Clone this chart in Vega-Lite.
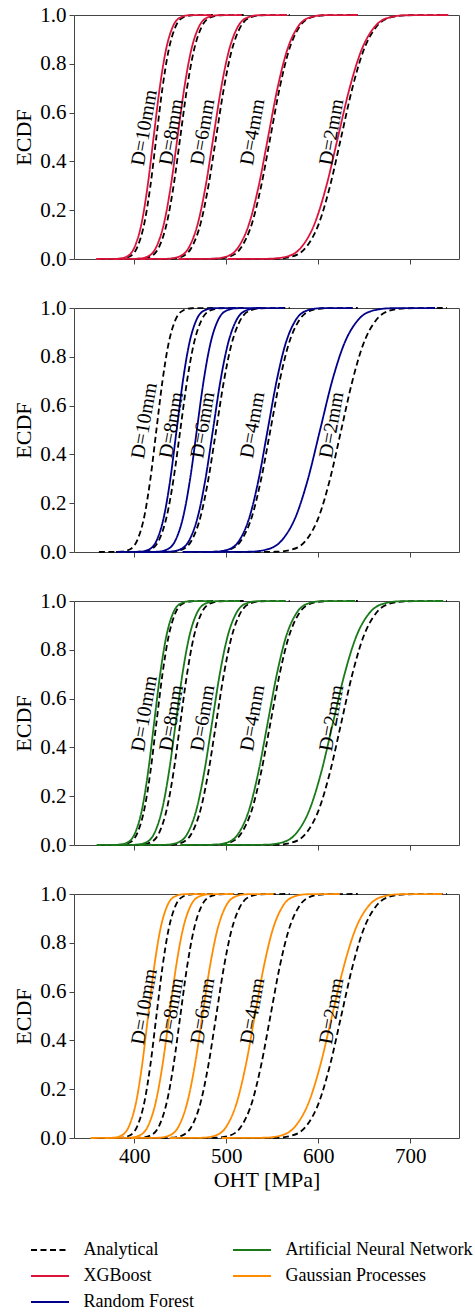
{
"$schema":"https://vega.github.io/schema/vega-lite/v6.json",
"background":"white",
"padding":{"left":12,"top":3,"right":0,"bottom":0},
"bounds":"flush",
"spacing":49,
"resolve":{"scale":{"color":"shared","strokeDash":"shared"},"legend":{"color":"shared","strokeDash":"shared"}},
"config":{
"font":"Liberation Serif",
"view":{"stroke":"#444","strokeWidth":1},
"axis":{"grid":false,"domain":false,"tickColor":"#444","tickSize":5,"labelFont":"Liberation Serif","labelFontSize":21,"labelColor":"black","labelPadding":3,"titleFont":"Liberation Serif","titleFontSize":22,"titleFontWeight":"normal","titleColor":"black"},
"legend":{"orient":"none","legendX":-35,"legendY":1224,"columns":2,"symbolType":"M-1.9,0H1.9","symbolSize":400,"symbolStrokeWidth":1.8,"labelFont":"Liberation Serif","labelFontSize":18,"labelColor":"black","labelOffset":22.5,"columnPadding":35,"rowPadding":6,"padding":0,"labelLimit":400}
},
"datasets":{
"labels":[
{"lab":"D=10mm","x":411,"y":0.538},
{"lab":"D=8mm","x":440.5,"y":0.52},
{"lab":"D=6mm","x":474.5,"y":0.52},
{"lab":"D=4mm","x":528.7,"y":0.52},
{"lab":"D=2mm","x":614.6,"y":0.52}
],
"curves":[
{"m":"Analytical","d":10,"x":361.5,"y":0},{"m":"Analytical","d":10,"x":385.4,"y":0.001},{"m":"Analytical","d":10,"x":394.9,"y":0.01},{"m":"Analytical","d":10,"x":403.4,"y":0.05},{"m":"Analytical","d":10,"x":411.1,"y":0.15},{"m":"Analytical","d":10,"x":417.5,"y":0.3},{"m":"Analytical","d":10,"x":424,"y":0.5},{"m":"Analytical","d":10,"x":430.6,"y":0.7},{"m":"Analytical","d":10,"x":437,"y":0.85},{"m":"Analytical","d":10,"x":444.6,"y":0.95},{"m":"Analytical","d":10,"x":453.1,"y":0.99},{"m":"Analytical","d":10,"x":462.6,"y":0.999},{"m":"Analytical","d":10,"x":486.5,"y":1},
{"m":"Analytical","d":8,"x":380,"y":0},{"m":"Analytical","d":8,"x":406.7,"y":0.001},{"m":"Analytical","d":8,"x":417.4,"y":0.01},{"m":"Analytical","d":8,"x":427,"y":0.05},{"m":"Analytical","d":8,"x":435.5,"y":0.15},{"m":"Analytical","d":8,"x":442.7,"y":0.3},{"m":"Analytical","d":8,"x":450,"y":0.5},{"m":"Analytical","d":8,"x":457.3,"y":0.7},{"m":"Analytical","d":8,"x":464.5,"y":0.85},{"m":"Analytical","d":8,"x":473,"y":0.95},{"m":"Analytical","d":8,"x":482.6,"y":0.99},{"m":"Analytical","d":8,"x":493.3,"y":0.999},{"m":"Analytical","d":8,"x":520,"y":1},
{"m":"Analytical","d":6,"x":409,"y":0},{"m":"Analytical","d":6,"x":439.6,"y":0.001},{"m":"Analytical","d":6,"x":451.8,"y":0.01},{"m":"Analytical","d":6,"x":462.7,"y":0.05},{"m":"Analytical","d":6,"x":472.4,"y":0.15},{"m":"Analytical","d":6,"x":480.6,"y":0.3},{"m":"Analytical","d":6,"x":489,"y":0.5},{"m":"Analytical","d":6,"x":497.4,"y":0.7},{"m":"Analytical","d":6,"x":505.6,"y":0.85},{"m":"Analytical","d":6,"x":515.3,"y":0.95},{"m":"Analytical","d":6,"x":526.2,"y":0.99},{"m":"Analytical","d":6,"x":538.4,"y":0.999},{"m":"Analytical","d":6,"x":569,"y":1},
{"m":"Analytical","d":4,"x":453,"y":0},{"m":"Analytical","d":4,"x":489.3,"y":0.001},{"m":"Analytical","d":4,"x":503.8,"y":0.01},{"m":"Analytical","d":4,"x":516.7,"y":0.05},{"m":"Analytical","d":4,"x":528.3,"y":0.15},{"m":"Analytical","d":4,"x":538,"y":0.3},{"m":"Analytical","d":4,"x":548,"y":0.5},{"m":"Analytical","d":4,"x":558,"y":0.7},{"m":"Analytical","d":4,"x":567.7,"y":0.85},{"m":"Analytical","d":4,"x":579.3,"y":0.95},{"m":"Analytical","d":4,"x":592.2,"y":0.99},{"m":"Analytical","d":4,"x":606.7,"y":0.999},{"m":"Analytical","d":4,"x":643,"y":1},
{"m":"Analytical","d":2,"x":510,"y":0},{"m":"Analytical","d":2,"x":553.9,"y":0.001},{"m":"Analytical","d":2,"x":571.5,"y":0.01},{"m":"Analytical","d":2,"x":587.2,"y":0.05},{"m":"Analytical","d":2,"x":601.2,"y":0.15},{"m":"Analytical","d":2,"x":612.9,"y":0.3},{"m":"Analytical","d":2,"x":625,"y":0.5},{"m":"Analytical","d":2,"x":637.1,"y":0.7},{"m":"Analytical","d":2,"x":648.8,"y":0.85},{"m":"Analytical","d":2,"x":662.8,"y":0.95},{"m":"Analytical","d":2,"x":678.5,"y":0.99},{"m":"Analytical","d":2,"x":696.1,"y":0.999},{"m":"Analytical","d":2,"x":740,"y":1},
{"m":"XGBoost","d":10,"x":358.5,"y":0},{"m":"XGBoost","d":10,"x":382.4,"y":0.001},{"m":"XGBoost","d":10,"x":391.9,"y":0.01},{"m":"XGBoost","d":10,"x":400.4,"y":0.05},{"m":"XGBoost","d":10,"x":408.1,"y":0.15},{"m":"XGBoost","d":10,"x":414.5,"y":0.3},{"m":"XGBoost","d":10,"x":421,"y":0.5},{"m":"XGBoost","d":10,"x":427.6,"y":0.7},{"m":"XGBoost","d":10,"x":434,"y":0.85},{"m":"XGBoost","d":10,"x":441.6,"y":0.95},{"m":"XGBoost","d":10,"x":450.1,"y":0.99},{"m":"XGBoost","d":10,"x":459.6,"y":0.999},{"m":"XGBoost","d":10,"x":483.5,"y":1},
{"m":"XGBoost","d":8,"x":377,"y":0},{"m":"XGBoost","d":8,"x":403.7,"y":0.001},{"m":"XGBoost","d":8,"x":414.4,"y":0.01},{"m":"XGBoost","d":8,"x":424,"y":0.05},{"m":"XGBoost","d":8,"x":432.5,"y":0.15},{"m":"XGBoost","d":8,"x":439.7,"y":0.3},{"m":"XGBoost","d":8,"x":447,"y":0.5},{"m":"XGBoost","d":8,"x":454.3,"y":0.7},{"m":"XGBoost","d":8,"x":461.5,"y":0.85},{"m":"XGBoost","d":8,"x":470,"y":0.95},{"m":"XGBoost","d":8,"x":479.6,"y":0.99},{"m":"XGBoost","d":8,"x":490.3,"y":0.999},{"m":"XGBoost","d":8,"x":517,"y":1},
{"m":"XGBoost","d":6,"x":406,"y":0},{"m":"XGBoost","d":6,"x":436.6,"y":0.001},{"m":"XGBoost","d":6,"x":448.8,"y":0.01},{"m":"XGBoost","d":6,"x":459.7,"y":0.05},{"m":"XGBoost","d":6,"x":469.4,"y":0.15},{"m":"XGBoost","d":6,"x":477.6,"y":0.3},{"m":"XGBoost","d":6,"x":486,"y":0.5},{"m":"XGBoost","d":6,"x":494.4,"y":0.7},{"m":"XGBoost","d":6,"x":502.6,"y":0.85},{"m":"XGBoost","d":6,"x":512.3,"y":0.95},{"m":"XGBoost","d":6,"x":523.2,"y":0.99},{"m":"XGBoost","d":6,"x":535.4,"y":0.999},{"m":"XGBoost","d":6,"x":566,"y":1},
{"m":"XGBoost","d":4,"x":448,"y":0},{"m":"XGBoost","d":4,"x":485.2,"y":0.001},{"m":"XGBoost","d":4,"x":500.1,"y":0.01},{"m":"XGBoost","d":4,"x":513.4,"y":0.05},{"m":"XGBoost","d":4,"x":525.3,"y":0.15},{"m":"XGBoost","d":4,"x":535.3,"y":0.3},{"m":"XGBoost","d":4,"x":545.5,"y":0.5},{"m":"XGBoost","d":4,"x":555.7,"y":0.7},{"m":"XGBoost","d":4,"x":565.7,"y":0.85},{"m":"XGBoost","d":4,"x":577.6,"y":0.95},{"m":"XGBoost","d":4,"x":590.9,"y":0.99},{"m":"XGBoost","d":4,"x":605.8,"y":0.999},{"m":"XGBoost","d":4,"x":643,"y":1},
{"m":"XGBoost","d":2,"x":501.5,"y":0},{"m":"XGBoost","d":2,"x":547.3,"y":0.001},{"m":"XGBoost","d":2,"x":565.7,"y":0.01},{"m":"XGBoost","d":2,"x":582,"y":0.05},{"m":"XGBoost","d":2,"x":596.6,"y":0.15},{"m":"XGBoost","d":2,"x":608.9,"y":0.3},{"m":"XGBoost","d":2,"x":621.5,"y":0.5},{"m":"XGBoost","d":2,"x":634.1,"y":0.7},{"m":"XGBoost","d":2,"x":646.4,"y":0.85},{"m":"XGBoost","d":2,"x":661,"y":0.95},{"m":"XGBoost","d":2,"x":677.3,"y":0.99},{"m":"XGBoost","d":2,"x":695.7,"y":0.999},{"m":"XGBoost","d":2,"x":741.5,"y":1},
{"m":"Random Forest","d":10,"x":381,"y":0},{"m":"Random Forest","d":10,"x":405.8,"y":0.001},{"m":"Random Forest","d":10,"x":415.8,"y":0.01},{"m":"Random Forest","d":10,"x":424.6,"y":0.05},{"m":"Random Forest","d":10,"x":432.5,"y":0.15},{"m":"Random Forest","d":10,"x":439.2,"y":0.3},{"m":"Random Forest","d":10,"x":446,"y":0.5},{"m":"Random Forest","d":10,"x":452.8,"y":0.7},{"m":"Random Forest","d":10,"x":459.5,"y":0.85},{"m":"Random Forest","d":10,"x":467.4,"y":0.95},{"m":"Random Forest","d":10,"x":476.2,"y":0.99},{"m":"Random Forest","d":10,"x":486.2,"y":0.999},{"m":"Random Forest","d":10,"x":511,"y":1},
{"m":"Random Forest","d":8,"x":398,"y":0},{"m":"Random Forest","d":8,"x":424.7,"y":0.001},{"m":"Random Forest","d":8,"x":435.4,"y":0.01},{"m":"Random Forest","d":8,"x":445,"y":0.05},{"m":"Random Forest","d":8,"x":453.5,"y":0.15},{"m":"Random Forest","d":8,"x":460.7,"y":0.3},{"m":"Random Forest","d":8,"x":468,"y":0.5},{"m":"Random Forest","d":8,"x":475.3,"y":0.7},{"m":"Random Forest","d":8,"x":482.5,"y":0.85},{"m":"Random Forest","d":8,"x":491,"y":0.95},{"m":"Random Forest","d":8,"x":500.6,"y":0.99},{"m":"Random Forest","d":8,"x":511.3,"y":0.999},{"m":"Random Forest","d":8,"x":538,"y":1},
{"m":"Random Forest","d":6,"x":408,"y":0},{"m":"Random Forest","d":6,"x":437.6,"y":0.001},{"m":"Random Forest","d":6,"x":449.4,"y":0.01},{"m":"Random Forest","d":6,"x":460,"y":0.05},{"m":"Random Forest","d":6,"x":469.4,"y":0.15},{"m":"Random Forest","d":6,"x":477.4,"y":0.3},{"m":"Random Forest","d":6,"x":485.5,"y":0.5},{"m":"Random Forest","d":6,"x":493.6,"y":0.7},{"m":"Random Forest","d":6,"x":501.6,"y":0.85},{"m":"Random Forest","d":6,"x":511,"y":0.95},{"m":"Random Forest","d":6,"x":521.6,"y":0.99},{"m":"Random Forest","d":6,"x":533.4,"y":0.999},{"m":"Random Forest","d":6,"x":563,"y":1},
{"m":"Random Forest","d":4,"x":452.5,"y":0},{"m":"Random Forest","d":4,"x":487.8,"y":0.001},{"m":"Random Forest","d":4,"x":502,"y":0.01},{"m":"Random Forest","d":4,"x":514.6,"y":0.05},{"m":"Random Forest","d":4,"x":525.8,"y":0.15},{"m":"Random Forest","d":4,"x":535.3,"y":0.3},{"m":"Random Forest","d":4,"x":545,"y":0.5},{"m":"Random Forest","d":4,"x":554.7,"y":0.7},{"m":"Random Forest","d":4,"x":564.2,"y":0.85},{"m":"Random Forest","d":4,"x":575.4,"y":0.95},{"m":"Random Forest","d":4,"x":588,"y":0.99},{"m":"Random Forest","d":4,"x":602.2,"y":0.999},{"m":"Random Forest","d":4,"x":637.5,"y":1},
{"m":"Random Forest","d":2,"x":477,"y":0},{"m":"Random Forest","d":2,"x":524.7,"y":0.001},{"m":"Random Forest","d":2,"x":543.8,"y":0.01},{"m":"Random Forest","d":2,"x":560.9,"y":0.05},{"m":"Random Forest","d":2,"x":576.1,"y":0.15},{"m":"Random Forest","d":2,"x":588.9,"y":0.3},{"m":"Random Forest","d":2,"x":602,"y":0.5},{"m":"Random Forest","d":2,"x":615.1,"y":0.7},{"m":"Random Forest","d":2,"x":627.9,"y":0.85},{"m":"Random Forest","d":2,"x":643.1,"y":0.95},{"m":"Random Forest","d":2,"x":660.2,"y":0.99},{"m":"Random Forest","d":2,"x":679.3,"y":0.999},{"m":"Random Forest","d":2,"x":727,"y":1},
{"m":"Artificial Neural Network","d":10,"x":359,"y":0},{"m":"Artificial Neural Network","d":10,"x":382.9,"y":0.001},{"m":"Artificial Neural Network","d":10,"x":392.4,"y":0.01},{"m":"Artificial Neural Network","d":10,"x":400.9,"y":0.05},{"m":"Artificial Neural Network","d":10,"x":408.6,"y":0.15},{"m":"Artificial Neural Network","d":10,"x":415,"y":0.3},{"m":"Artificial Neural Network","d":10,"x":421.5,"y":0.5},{"m":"Artificial Neural Network","d":10,"x":428.1,"y":0.7},{"m":"Artificial Neural Network","d":10,"x":434.5,"y":0.85},{"m":"Artificial Neural Network","d":10,"x":442.1,"y":0.95},{"m":"Artificial Neural Network","d":10,"x":450.6,"y":0.99},{"m":"Artificial Neural Network","d":10,"x":460.1,"y":0.999},{"m":"Artificial Neural Network","d":10,"x":484,"y":1},
{"m":"Artificial Neural Network","d":8,"x":375,"y":0},{"m":"Artificial Neural Network","d":8,"x":401.7,"y":0.001},{"m":"Artificial Neural Network","d":8,"x":412.4,"y":0.01},{"m":"Artificial Neural Network","d":8,"x":422,"y":0.05},{"m":"Artificial Neural Network","d":8,"x":430.5,"y":0.15},{"m":"Artificial Neural Network","d":8,"x":437.7,"y":0.3},{"m":"Artificial Neural Network","d":8,"x":445,"y":0.5},{"m":"Artificial Neural Network","d":8,"x":452.3,"y":0.7},{"m":"Artificial Neural Network","d":8,"x":459.5,"y":0.85},{"m":"Artificial Neural Network","d":8,"x":468,"y":0.95},{"m":"Artificial Neural Network","d":8,"x":477.6,"y":0.99},{"m":"Artificial Neural Network","d":8,"x":488.3,"y":0.999},{"m":"Artificial Neural Network","d":8,"x":515,"y":1},
{"m":"Artificial Neural Network","d":6,"x":404.5,"y":0},{"m":"Artificial Neural Network","d":6,"x":435.1,"y":0.001},{"m":"Artificial Neural Network","d":6,"x":447.3,"y":0.01},{"m":"Artificial Neural Network","d":6,"x":458.2,"y":0.05},{"m":"Artificial Neural Network","d":6,"x":467.9,"y":0.15},{"m":"Artificial Neural Network","d":6,"x":476.1,"y":0.3},{"m":"Artificial Neural Network","d":6,"x":484.5,"y":0.5},{"m":"Artificial Neural Network","d":6,"x":492.9,"y":0.7},{"m":"Artificial Neural Network","d":6,"x":501.1,"y":0.85},{"m":"Artificial Neural Network","d":6,"x":510.8,"y":0.95},{"m":"Artificial Neural Network","d":6,"x":521.7,"y":0.99},{"m":"Artificial Neural Network","d":6,"x":533.9,"y":0.999},{"m":"Artificial Neural Network","d":6,"x":564.5,"y":1},
{"m":"Artificial Neural Network","d":4,"x":450,"y":0},{"m":"Artificial Neural Network","d":4,"x":486.3,"y":0.001},{"m":"Artificial Neural Network","d":4,"x":500.8,"y":0.01},{"m":"Artificial Neural Network","d":4,"x":513.7,"y":0.05},{"m":"Artificial Neural Network","d":4,"x":525.3,"y":0.15},{"m":"Artificial Neural Network","d":4,"x":535,"y":0.3},{"m":"Artificial Neural Network","d":4,"x":545,"y":0.5},{"m":"Artificial Neural Network","d":4,"x":555,"y":0.7},{"m":"Artificial Neural Network","d":4,"x":564.7,"y":0.85},{"m":"Artificial Neural Network","d":4,"x":576.3,"y":0.95},{"m":"Artificial Neural Network","d":4,"x":589.2,"y":0.99},{"m":"Artificial Neural Network","d":4,"x":603.7,"y":0.999},{"m":"Artificial Neural Network","d":4,"x":640,"y":1},
{"m":"Artificial Neural Network","d":2,"x":496,"y":0},{"m":"Artificial Neural Network","d":2,"x":541.8,"y":0.001},{"m":"Artificial Neural Network","d":2,"x":560.2,"y":0.01},{"m":"Artificial Neural Network","d":2,"x":576.5,"y":0.05},{"m":"Artificial Neural Network","d":2,"x":591.1,"y":0.15},{"m":"Artificial Neural Network","d":2,"x":603.4,"y":0.3},{"m":"Artificial Neural Network","d":2,"x":616,"y":0.5},{"m":"Artificial Neural Network","d":2,"x":628.6,"y":0.7},{"m":"Artificial Neural Network","d":2,"x":640.9,"y":0.85},{"m":"Artificial Neural Network","d":2,"x":655.5,"y":0.95},{"m":"Artificial Neural Network","d":2,"x":671.8,"y":0.99},{"m":"Artificial Neural Network","d":2,"x":690.2,"y":0.999},{"m":"Artificial Neural Network","d":2,"x":736,"y":1},
{"m":"Gaussian Processes","d":10,"x":352.5,"y":0},{"m":"Gaussian Processes","d":10,"x":376.4,"y":0.001},{"m":"Gaussian Processes","d":10,"x":385.9,"y":0.01},{"m":"Gaussian Processes","d":10,"x":394.4,"y":0.05},{"m":"Gaussian Processes","d":10,"x":402.1,"y":0.15},{"m":"Gaussian Processes","d":10,"x":408.5,"y":0.3},{"m":"Gaussian Processes","d":10,"x":415,"y":0.5},{"m":"Gaussian Processes","d":10,"x":421.6,"y":0.7},{"m":"Gaussian Processes","d":10,"x":428,"y":0.85},{"m":"Gaussian Processes","d":10,"x":435.6,"y":0.95},{"m":"Gaussian Processes","d":10,"x":444.1,"y":0.99},{"m":"Gaussian Processes","d":10,"x":453.6,"y":0.999},{"m":"Gaussian Processes","d":10,"x":477.5,"y":1},
{"m":"Gaussian Processes","d":8,"x":368,"y":0},{"m":"Gaussian Processes","d":8,"x":394.7,"y":0.001},{"m":"Gaussian Processes","d":8,"x":405.4,"y":0.01},{"m":"Gaussian Processes","d":8,"x":415,"y":0.05},{"m":"Gaussian Processes","d":8,"x":423.5,"y":0.15},{"m":"Gaussian Processes","d":8,"x":430.7,"y":0.3},{"m":"Gaussian Processes","d":8,"x":438,"y":0.5},{"m":"Gaussian Processes","d":8,"x":445.3,"y":0.7},{"m":"Gaussian Processes","d":8,"x":452.5,"y":0.85},{"m":"Gaussian Processes","d":8,"x":461,"y":0.95},{"m":"Gaussian Processes","d":8,"x":470.6,"y":0.99},{"m":"Gaussian Processes","d":8,"x":481.3,"y":0.999},{"m":"Gaussian Processes","d":8,"x":508,"y":1},
{"m":"Gaussian Processes","d":6,"x":396.5,"y":0},{"m":"Gaussian Processes","d":6,"x":426.1,"y":0.001},{"m":"Gaussian Processes","d":6,"x":437.9,"y":0.01},{"m":"Gaussian Processes","d":6,"x":448.5,"y":0.05},{"m":"Gaussian Processes","d":6,"x":457.9,"y":0.15},{"m":"Gaussian Processes","d":6,"x":465.9,"y":0.3},{"m":"Gaussian Processes","d":6,"x":474,"y":0.5},{"m":"Gaussian Processes","d":6,"x":482.1,"y":0.7},{"m":"Gaussian Processes","d":6,"x":490.1,"y":0.85},{"m":"Gaussian Processes","d":6,"x":499.5,"y":0.95},{"m":"Gaussian Processes","d":6,"x":510.1,"y":0.99},{"m":"Gaussian Processes","d":6,"x":521.9,"y":0.999},{"m":"Gaussian Processes","d":6,"x":551.5,"y":1},
{"m":"Gaussian Processes","d":4,"x":438.5,"y":0},{"m":"Gaussian Processes","d":4,"x":473.8,"y":0.001},{"m":"Gaussian Processes","d":4,"x":488,"y":0.01},{"m":"Gaussian Processes","d":4,"x":500.6,"y":0.05},{"m":"Gaussian Processes","d":4,"x":511.8,"y":0.15},{"m":"Gaussian Processes","d":4,"x":521.3,"y":0.3},{"m":"Gaussian Processes","d":4,"x":531,"y":0.5},{"m":"Gaussian Processes","d":4,"x":540.7,"y":0.7},{"m":"Gaussian Processes","d":4,"x":550.2,"y":0.85},{"m":"Gaussian Processes","d":4,"x":561.4,"y":0.95},{"m":"Gaussian Processes","d":4,"x":574,"y":0.99},{"m":"Gaussian Processes","d":4,"x":588.2,"y":0.999},{"m":"Gaussian Processes","d":4,"x":623.5,"y":1},
{"m":"Gaussian Processes","d":2,"x":495,"y":0},{"m":"Gaussian Processes","d":2,"x":540.8,"y":0.001},{"m":"Gaussian Processes","d":2,"x":559.2,"y":0.01},{"m":"Gaussian Processes","d":2,"x":575.5,"y":0.05},{"m":"Gaussian Processes","d":2,"x":590.1,"y":0.15},{"m":"Gaussian Processes","d":2,"x":602.4,"y":0.3},{"m":"Gaussian Processes","d":2,"x":615,"y":0.5},{"m":"Gaussian Processes","d":2,"x":627.6,"y":0.7},{"m":"Gaussian Processes","d":2,"x":639.9,"y":0.85},{"m":"Gaussian Processes","d":2,"x":654.5,"y":0.95},{"m":"Gaussian Processes","d":2,"x":670.8,"y":0.99},{"m":"Gaussian Processes","d":2,"x":689.2,"y":0.999},{"m":"Gaussian Processes","d":2,"x":735,"y":1}
]
},
"vconcat":[
{"width":385,"height":244,
"encoding":{
"x":{"field":"x","type":"quantitative","scale":{"domain":[334.4,753.1],"nice":false,"zero":false},"axis":{"values":[400,500,600,700],"labels":false,"title":null}},
"y":{"field":"y","type":"quantitative","scale":{"domain":[0,1],"nice":false},"axis":{"values":[0,0.2,0.4,0.6,0.8,1],"format":".1f","title":"ECDF"}}},
"layer":[
{"data":{"name":"curves"},"transform":[{"filter":"datum.m === 'Analytical'"}],"mark":{"type":"line","interpolate":"monotone","strokeWidth":1.8},
"encoding":{"detail":{"field":"d"},"order":{"field":"x","type":"quantitative"},
"color":{"field":"m","type":"nominal","scale":{"domain":["Analytical","XGBoost","Random Forest","Artificial Neural Network","Gaussian Processes"],"range":["#000000","#dc143c","#00008b","#1a7a1a","#ff8c00"]},"legend":{"title":null}},
"strokeDash":{"field":"m","type":"nominal","scale":{"domain":["Analytical","XGBoost","Random Forest","Artificial Neural Network","Gaussian Processes"],"range":[[6,3.5],[1,0],[1,0],[1,0],[1,0]]},"legend":{"title":null}}}},
{"data":{"name":"curves"},"transform":[{"filter":"datum.m === 'XGBoost'"}],"mark":{"type":"line","interpolate":"monotone","strokeWidth":1.8},
"encoding":{"detail":{"field":"d"},"order":{"field":"x","type":"quantitative"},
"color":{"field":"m","type":"nominal","scale":{"domain":["Analytical","XGBoost","Random Forest","Artificial Neural Network","Gaussian Processes"],"range":["#000000","#dc143c","#00008b","#1a7a1a","#ff8c00"]},"legend":{"title":null}},
"strokeDash":{"field":"m","type":"nominal","scale":{"domain":["Analytical","XGBoost","Random Forest","Artificial Neural Network","Gaussian Processes"],"range":[[6,3.5],[1,0],[1,0],[1,0],[1,0]]},"legend":{"title":null}}}},
{"data":{"name":"labels"},"mark":{"type":"text","angle":280,"fontSize":20,"font":"Liberation Serif","color":"black","align":"center","baseline":"middle"},"encoding":{"text":{"field":"lab"}}}
]},
{"width":385,"height":244,
"encoding":{
"x":{"field":"x","type":"quantitative","scale":{"domain":[334.4,753.1],"nice":false,"zero":false},"axis":{"values":[400,500,600,700],"labels":false,"title":null}},
"y":{"field":"y","type":"quantitative","scale":{"domain":[0,1],"nice":false},"axis":{"values":[0,0.2,0.4,0.6,0.8,1],"format":".1f","title":"ECDF"}}},
"layer":[
{"data":{"name":"curves"},"transform":[{"filter":"datum.m === 'Analytical'"}],"mark":{"type":"line","interpolate":"monotone","strokeWidth":1.8},
"encoding":{"detail":{"field":"d"},"order":{"field":"x","type":"quantitative"},
"color":{"field":"m","type":"nominal","scale":{"domain":["Analytical","XGBoost","Random Forest","Artificial Neural Network","Gaussian Processes"],"range":["#000000","#dc143c","#00008b","#1a7a1a","#ff8c00"]},"legend":{"title":null}},
"strokeDash":{"field":"m","type":"nominal","scale":{"domain":["Analytical","XGBoost","Random Forest","Artificial Neural Network","Gaussian Processes"],"range":[[6,3.5],[1,0],[1,0],[1,0],[1,0]]},"legend":{"title":null}}}},
{"data":{"name":"curves"},"transform":[{"filter":"datum.m === 'Random Forest'"}],"mark":{"type":"line","interpolate":"monotone","strokeWidth":1.8},
"encoding":{"detail":{"field":"d"},"order":{"field":"x","type":"quantitative"},
"color":{"field":"m","type":"nominal","scale":{"domain":["Analytical","XGBoost","Random Forest","Artificial Neural Network","Gaussian Processes"],"range":["#000000","#dc143c","#00008b","#1a7a1a","#ff8c00"]},"legend":{"title":null}},
"strokeDash":{"field":"m","type":"nominal","scale":{"domain":["Analytical","XGBoost","Random Forest","Artificial Neural Network","Gaussian Processes"],"range":[[6,3.5],[1,0],[1,0],[1,0],[1,0]]},"legend":{"title":null}}}},
{"data":{"name":"labels"},"mark":{"type":"text","angle":280,"fontSize":20,"font":"Liberation Serif","color":"black","align":"center","baseline":"middle"},"encoding":{"text":{"field":"lab"}}}
]},
{"width":385,"height":244,
"encoding":{
"x":{"field":"x","type":"quantitative","scale":{"domain":[334.4,753.1],"nice":false,"zero":false},"axis":{"values":[400,500,600,700],"labels":false,"title":null}},
"y":{"field":"y","type":"quantitative","scale":{"domain":[0,1],"nice":false},"axis":{"values":[0,0.2,0.4,0.6,0.8,1],"format":".1f","title":"ECDF"}}},
"layer":[
{"data":{"name":"curves"},"transform":[{"filter":"datum.m === 'Analytical'"}],"mark":{"type":"line","interpolate":"monotone","strokeWidth":1.8},
"encoding":{"detail":{"field":"d"},"order":{"field":"x","type":"quantitative"},
"color":{"field":"m","type":"nominal","scale":{"domain":["Analytical","XGBoost","Random Forest","Artificial Neural Network","Gaussian Processes"],"range":["#000000","#dc143c","#00008b","#1a7a1a","#ff8c00"]},"legend":{"title":null}},
"strokeDash":{"field":"m","type":"nominal","scale":{"domain":["Analytical","XGBoost","Random Forest","Artificial Neural Network","Gaussian Processes"],"range":[[6,3.5],[1,0],[1,0],[1,0],[1,0]]},"legend":{"title":null}}}},
{"data":{"name":"curves"},"transform":[{"filter":"datum.m === 'Artificial Neural Network'"}],"mark":{"type":"line","interpolate":"monotone","strokeWidth":1.8},
"encoding":{"detail":{"field":"d"},"order":{"field":"x","type":"quantitative"},
"color":{"field":"m","type":"nominal","scale":{"domain":["Analytical","XGBoost","Random Forest","Artificial Neural Network","Gaussian Processes"],"range":["#000000","#dc143c","#00008b","#1a7a1a","#ff8c00"]},"legend":{"title":null}},
"strokeDash":{"field":"m","type":"nominal","scale":{"domain":["Analytical","XGBoost","Random Forest","Artificial Neural Network","Gaussian Processes"],"range":[[6,3.5],[1,0],[1,0],[1,0],[1,0]]},"legend":{"title":null}}}},
{"data":{"name":"labels"},"mark":{"type":"text","angle":280,"fontSize":20,"font":"Liberation Serif","color":"black","align":"center","baseline":"middle"},"encoding":{"text":{"field":"lab"}}}
]},
{"width":385,"height":244,
"encoding":{
"x":{"field":"x","type":"quantitative","scale":{"domain":[334.4,753.1],"nice":false,"zero":false},"axis":{"values":[400,500,600,700],"title":"OHT [MPa]","labelPadding":2,"titlePadding":3}},
"y":{"field":"y","type":"quantitative","scale":{"domain":[0,1],"nice":false},"axis":{"values":[0,0.2,0.4,0.6,0.8,1],"format":".1f","title":"ECDF"}}},
"layer":[
{"data":{"name":"curves"},"transform":[{"filter":"datum.m === 'Analytical'"}],"mark":{"type":"line","interpolate":"monotone","strokeWidth":1.8},
"encoding":{"detail":{"field":"d"},"order":{"field":"x","type":"quantitative"},
"color":{"field":"m","type":"nominal","scale":{"domain":["Analytical","XGBoost","Random Forest","Artificial Neural Network","Gaussian Processes"],"range":["#000000","#dc143c","#00008b","#1a7a1a","#ff8c00"]},"legend":{"title":null}},
"strokeDash":{"field":"m","type":"nominal","scale":{"domain":["Analytical","XGBoost","Random Forest","Artificial Neural Network","Gaussian Processes"],"range":[[6,3.5],[1,0],[1,0],[1,0],[1,0]]},"legend":{"title":null}}}},
{"data":{"name":"curves"},"transform":[{"filter":"datum.m === 'Gaussian Processes'"}],"mark":{"type":"line","interpolate":"monotone","strokeWidth":1.8},
"encoding":{"detail":{"field":"d"},"order":{"field":"x","type":"quantitative"},
"color":{"field":"m","type":"nominal","scale":{"domain":["Analytical","XGBoost","Random Forest","Artificial Neural Network","Gaussian Processes"],"range":["#000000","#dc143c","#00008b","#1a7a1a","#ff8c00"]},"legend":{"title":null}},
"strokeDash":{"field":"m","type":"nominal","scale":{"domain":["Analytical","XGBoost","Random Forest","Artificial Neural Network","Gaussian Processes"],"range":[[6,3.5],[1,0],[1,0],[1,0],[1,0]]},"legend":{"title":null}}}},
{"data":{"name":"labels"},"mark":{"type":"text","angle":280,"fontSize":20,"font":"Liberation Serif","color":"black","align":"center","baseline":"middle"},"encoding":{"text":{"field":"lab"}}}
]}
]
}
